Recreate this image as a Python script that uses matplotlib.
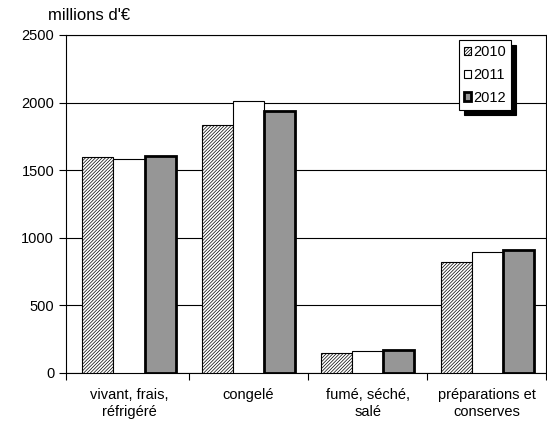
import numpy as np
import matplotlib.pyplot as plt

plt.rcParams['font.family'] = ['Liberation Sans', 'DejaVu Sans']
plt.rcParams['hatch.linewidth'] = 0.5

categories = ['vivant, frais,\nréfrigéré', 'congelé', 'fumé, séché,\nsalé', 'préparations et\nconserves']
years = ['2010', '2011', '2012']
v2010 = [1595, 1835, 145, 820]
v2011 = [1580, 2010, 165, 895]
v2012 = [1605, 1935, 170, 910]

fig = plt.figure(figsize=(5.47, 4.28), dpi=100)
ax = fig.add_axes([66/547, 1 - 373/428, 480/547, 338/428])

x = np.arange(len(categories))
w = 0.26
ax.bar(x - w, v2010, w, color='white', edgecolor='black', hatch='/' * 10, linewidth=0.8, label=years[0], zorder=3)
ax.bar(x, v2011, w, color='white', edgecolor='black', linewidth=0.8, label=years[1], zorder=3)
ax.bar(x + w, v2012, w, color='#969696', edgecolor='black', linewidth=2, label=years[2], zorder=3)

x0, x1 = -0.528, 3.494
ax.set_xlim(x0, x1)
ax.set_ylim(0, 2500)
ax.set_yticks([0, 500, 1000, 1500, 2000, 2500])
ax.yaxis.grid(True, color='black', linewidth=0.8, zorder=0)
ax.set_axisbelow(True)

ax.set_xticks([x0, 0.5, 1.5, 2.5, x1])
ax.set_xticklabels([])
ax.set_xticks(x, minor=True)
ax.set_xticklabels(categories, minor=True, fontsize=10.5, linespacing=1.25)
ax.tick_params(axis='x', which='minor', length=0, pad=11)
ax.tick_params(axis='x', which='major', length=5, direction='out')
ax.tick_params(axis='y', labelsize=10.5, length=5, direction='out')

for s in ax.spines.values():
    s.set_color('black')
    s.set_linewidth(0.8)

fig.text(48/547, 1 - 15/428, "millions d'€", fontsize=12, va='center', ha='left')

leg = ax.legend(loc='upper right', bbox_to_anchor=((511 - 66)/480, 1 - 5/338), borderaxespad=0,
                fancybox=False, edgecolor='black', framealpha=1, fontsize=10.5,
                handlelength=0.5, handleheight=0.5, handletextpad=0.15,
                labelspacing=0.6, borderpad=0.35,
                shadow={'color': 'black', 'alpha': 1, 'ox': 3.8, 'oy': -3.8})
leg.get_frame().set_linewidth(0.8)

plt.savefig('out.png', dpi=100)
